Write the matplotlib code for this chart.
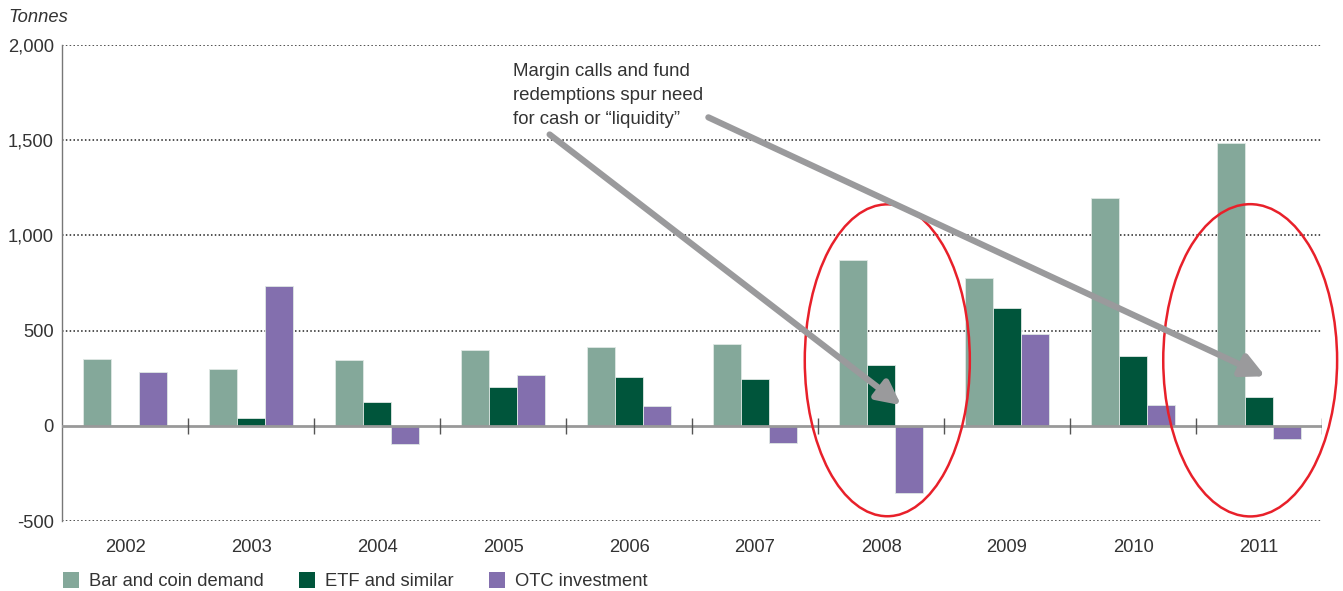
import numpy as np
import matplotlib
matplotlib.use("Agg")
import matplotlib.pyplot as plt
from matplotlib.patches import Ellipse, Patch

plt.rcParams['font.family'] = ['Liberation Sans', 'DejaVu Sans']

# data (tonnes)
years = ['2002', '2003', '2004', '2005', '2006', '2007', '2008', '2009', '2010', '2011']
bar_coin = [353, 300, 344, 396, 412, 430, 870, 774, 1198, 1483]
etf = [6, 41, 127, 206, 258, 248, 318, 620, 368, 153]
otc = [282, 732, -97, 265, 102, -88, -354, 482, 109, -71]
series_names = ['Bar and coin demand', 'ETF and similar', 'OTC investment']
colors = ['#84a89a', '#00553b', '#836fae']
yticks = [-500, 0, 500, 1000, 1500, 2000]

fig = plt.figure(figsize=(13.43, 5.91), dpi=100)
ax = fig.add_axes([62/1343, 1 - 521/591, 1260/1343, 476/591])

x = np.arange(len(years))
w = 0.222
for k, vals in enumerate([bar_coin, etf, otc]):
    ax.bar(x + (k - 1) * w, vals, w, color=colors[k], edgecolor='#dfe8e4',
           linewidth=0.6, zorder=3)

ax.set_xlim(-0.5, len(years) - 0.5)
ax.set_ylim(-500, 2000)
ax.set_yticks(yticks)
ax.set_yticklabels(['-500', '0', '500', '1,000', '1,500', '2,000'])
ax.set_xticks(x)
ax.set_xticklabels(years)
ax.tick_params(axis='both', length=0, labelsize=13.2, colors='#333333')
ax.tick_params(axis='x', pad=13)
ax.tick_params(axis='y', pad=6)

for s in ['top', 'right', 'bottom']:
    ax.spines[s].set_visible(False)
ax.spines['left'].set_color('#777777')
ax.spines['left'].set_linewidth(1)

for v in yticks:
    if v != 0:
        ax.axhline(v, color='#222222', linestyle=(0, (1, 1.5)), linewidth=1.1, zorder=1)
ax.axhline(0, color='#999999', linewidth=2, zorder=4)
ax.vlines(np.arange(len(years)) + 0.5, -42, 42, color='#555555', linewidth=1, zorder=4)

# highlight ellipses
for cx, cy, ew, eh in [(6.05, 344, 1.31, 1638), (8.93, 344, 1.38, 1640)]:
    ax.add_patch(Ellipse((cx, cy), ew, eh, fill=False, edgecolor='#e8202a',
                         linewidth=1.8, zorder=6, clip_on=False))

arrow = dict(arrowstyle='-|>,head_length=1.4,head_width=0.7', color='#9a9a9c',
             linewidth=4.5, shrinkA=0, shrinkB=0)
ax.annotate('', xy=(6.16, 108), xytext=(3.37, 1530), arrowprops=arrow, zorder=7)
ax.annotate('', xy=(9.05, 260), xytext=(4.63, 1620), arrowprops=arrow, zorder=7,
            annotation_clip=False)

fig.text(513/1343, 1 - 63/591, 'Margin calls and fund\nredemptions spur need\nfor cash or \u201cliquidity\u201d',
         fontsize=13.4, color='#333333', va='top', ha='left', linespacing=1.55)

fig.text(8/1343, 1 - 18/591, 'Tonnes', fontsize=13.2, style='italic', color='#333333',
         va='center', ha='left')

handles = [Patch(facecolor=c, edgecolor='none') for c in colors]
fig.legend(handles, series_names, loc='center left', bbox_to_anchor=(48/1343, 1 - 581/591),
           ncol=3, frameon=False, fontsize=13.2, handlelength=0.9, handleheight=1.0,
           handletextpad=0.55, columnspacing=1.9, labelcolor='#333333', borderpad=0.3)

fig.savefig('out.png', dpi=100)
